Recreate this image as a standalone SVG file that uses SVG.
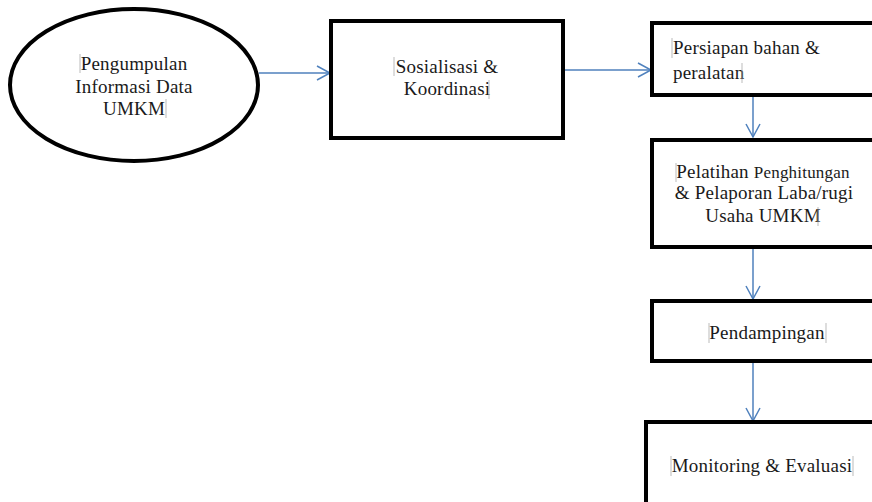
<svg xmlns="http://www.w3.org/2000/svg" width="872" height="502" viewBox="0 0 872 502">
<defs>
<marker id="arr" markerWidth="16" markerHeight="16" refX="14" refY="8" orient="auto" markerUnits="userSpaceOnUse">
<path d="M1,1 L14,8 L1,15" fill="none" stroke="#4f81bd" stroke-width="1.5"/>
</marker>
</defs>
<style>
.shape{fill:#fff;stroke:#000;stroke-width:4}
text{font-family:'Liberation Serif','Times New Roman',serif;font-size:19px;letter-spacing:0.2px;fill:#1a1a1a}
.c{text-anchor:middle}
.conn{stroke:#4f81bd;stroke-width:1.5;fill:none;marker-end:url(#arr)}
.cur{stroke:#aaa;stroke-width:0.8}
</style>
<rect width="872" height="502" fill="#fff"/>
<g id="connectors">
<line class="conn" x1="259" y1="73" x2="330" y2="73"/>
<line class="conn" x1="564" y1="70" x2="651" y2="70"/>
<line class="conn" x1="753" y1="96" x2="753" y2="137"/>
<line class="conn" x1="753" y1="249" x2="753" y2="299"/>
<line class="conn" x1="753" y1="363" x2="753" y2="421"/>
</g>
<g id="n1">
<ellipse class="shape" cx="134" cy="85" rx="124" ry="76"/>
<text class="c" x="134" y="70">Pengumpulan</text>
<text class="c" x="134" y="93">Informasi Data</text>
<text class="c" x="134" y="115">UMKM</text>
<line class="cur" x1="80" y1="54" x2="80" y2="73"/>
<line class="cur" x1="166" y1="99" x2="166" y2="118"/>
</g>
<g id="n2">
<rect class="shape" x="331" y="21" width="232" height="117"/>
<text class="c" x="447" y="73">Sosialisasi &amp;</text>
<text class="c" x="447" y="95">Koordinasi</text>
<line class="cur" x1="394" y1="57" x2="394" y2="76"/>
<line class="cur" x1="489" y1="80" x2="489" y2="99"/>
</g>
<g id="n3">
<rect class="shape" x="652" y="23" width="230" height="72"/>
<text x="673" y="54">Persiapan bahan &amp;</text>
<text x="673" y="79">peralatan</text>
<line class="cur" x1="672" y1="38" x2="672" y2="58"/>
<line class="cur" x1="742" y1="63" x2="742" y2="83"/>
</g>
<g id="n4">
<rect class="shape" x="652" y="140" width="230" height="107"/>
<text class="c" x="763" y="178"><tspan font-size="19">Pelatihan</tspan> <tspan font-size="17">Penghitungan</tspan></text>
<text class="c" x="764" y="199" font-size="16.5" letter-spacing="0.3">&amp; Pelaporan Laba/rugi</text>
<text class="c" x="763" y="222" font-size="18">Usaha UMKM</text>
<line class="cur" x1="676" y1="163" x2="676" y2="182"/>
<line class="cur" x1="818" y1="207" x2="818" y2="226"/>
</g>
<g id="n5">
<rect class="shape" x="652" y="301" width="230" height="60"/>
<text class="c" x="767" y="339">Pendampingan</text>
<line class="cur" x1="709" y1="323" x2="709" y2="343"/>
<line class="cur" x1="826" y1="323" x2="826" y2="343"/>
</g>
<g id="n6">
<rect class="shape" x="646" y="422" width="236" height="90"/>
<text class="c" x="762" y="472">Monitoring &amp; Evaluasi</text>
<line class="cur" x1="671" y1="456" x2="671" y2="476"/>
<line class="cur" x1="853" y1="456" x2="853" y2="476"/>
</g>
</svg>
